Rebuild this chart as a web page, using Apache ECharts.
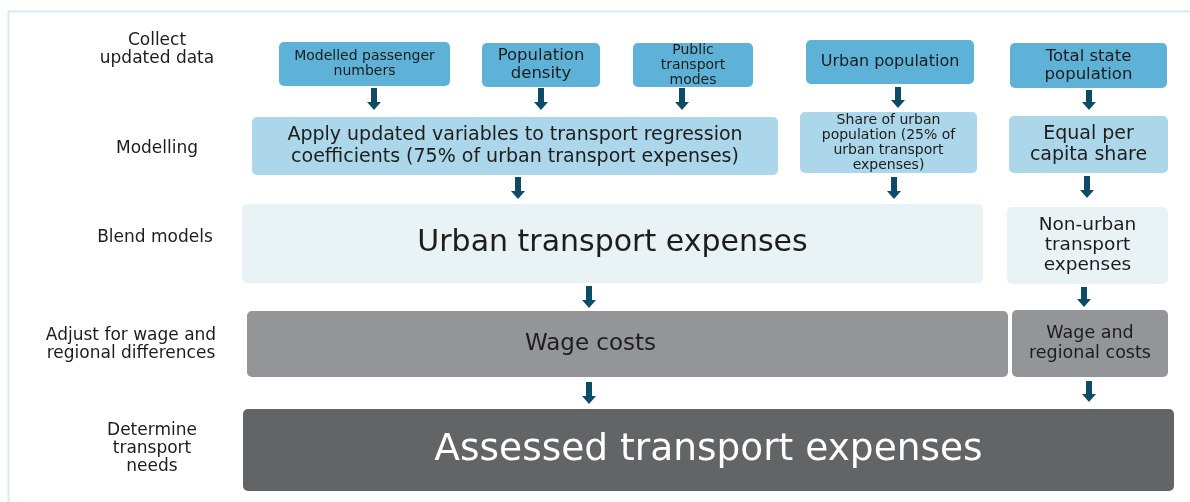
<!DOCTYPE html>
<html>
<head>
<meta charset="utf-8">
<script src="https://cdn.jsdelivr.net/npm/echarts@6/dist/echarts.min.js"></script>
<style>
html, body { margin: 0; padding: 0; background: #fff; }
#chart { width: 1190px; height: 502px; }
</style>
</head>
<body>
<div id="chart"></div>
<script>
// stage labels on the left
const stageNames = ['Collect\nupdated data', 'Modelling', 'Blend models', 'Adjust for wage and\nregional differences', 'Determine\ntransport\nneeds']
const stageX = [157, 157, 155, 131, 152]
const stageY = [50, 149, 238, 345, 449]

// boxes (extents in chart units)
const boxText = [
  'Modelled passenger\nnumbers',
  'Population\ndensity',
  'Public\ntransport\nmodes',
  'Urban population',
  'Total state\npopulation',
  'Apply updated variables to transport regression\ncoefficients (75% of urban transport expenses)',
  'Share of urban\npopulation (25% of\nurban transport\nexpenses)',
  'Equal per\ncapita share',
  'Urban transport expenses',
  'Non-urban\ntransport\nexpenses',
  'Wage costs',
  'Wage and\nregional costs',
  'Assessed transport expenses'
]
const boxStage = [0, 0, 0, 0, 0, 1, 1, 1, 2, 2, 3, 3, 4]
const boxX0 = [279, 482, 633, 806, 1010, 252, 800, 1009, 242, 1007, 247, 1012, 243]
const boxX1 = [450, 600, 753, 974, 1167, 778, 977, 1168, 983, 1168, 1008, 1168, 1174]
const boxY0 = [42, 43, 43, 40, 43, 117, 112, 116, 204, 207, 311, 310, 409]
const boxY1 = [86, 87, 87, 84, 88, 175, 173, 173, 283, 284, 377, 377, 491]

// arrows between stages
const arrowX = [374, 541, 682, 898, 1089, 518, 894, 1087, 589, 1084, 589, 1089]
const arrowY0 = [88, 88, 88, 87, 90, 177, 177, 176, 286, 287, 382, 381]
const arrowY1 = [110, 110, 110, 108, 110, 199, 199, 198, 308, 307, 404, 402]

// styles
const stageFill = ['#5fb2d7', '#acd6ea', '#e9f2f5', '#939598', '#636466']
const boxFont = [14, 16.5, 14, 16, 16.5, 19, 14, 19, 30, 18.5, 23, 17.5, 37.5]
const boxLine = [15, 18, 15, 18, 18, 22, 15, 21, 34, 20, 28, 20, 42]
const boxShift = [0, 0, 0, 0, 0, 0, 0, 0, 0, 0, -37, 0, 0]
const FONT = '"DejaVu Sans", sans-serif'
const TEXT = '#1d1d1b'

const chart = echarts.init(document.getElementById('chart'))

const boxData = boxText.map((t, i) => [boxX0[i], boxY0[i], boxX1[i], boxY1[i], i])
const arrowData = arrowX.map((x, i) => [x, arrowY0[i], arrowY1[i]])
const stageData = stageNames.map((t, i) => [stageX[i], stageY[i], i])

const option = {
  animation: false,
  grid: { left: 0, right: 0, top: 0, bottom: 0 },
  xAxis: { type: 'value', min: 0, max: 1190, show: false },
  yAxis: { type: 'value', min: 0, max: 502, inverse: true, show: false },
  graphic: [
    { type: 'line', shape: { x1: 8, y1: 11.5, x2: 1190, y2: 11.5 }, style: { stroke: '#d7e9f5', lineWidth: 2 } },
    { type: 'line', shape: { x1: 8.5, y1: 11, x2: 8.5, y2: 502 }, style: { stroke: '#d7e9f5', lineWidth: 2 } }
  ],
  series: [
    {
      type: 'custom',
      data: boxData,
      renderItem: (params, api) => {
        const i = api.value(4)
        const p0 = api.coord([api.value(0), api.value(1)])
        const p1 = api.coord([api.value(2), api.value(3)])
        const s = boxStage[i]
        return {
          type: 'group',
          children: [
            {
              type: 'rect',
              shape: { x: p0[0], y: p0[1], width: p1[0] - p0[0], height: p1[1] - p0[1], r: 5 },
              style: { fill: stageFill[s] }
            },
            {
              type: 'text',
              style: {
                text: boxText[i],
                x: (p0[0] + p1[0]) / 2 + boxShift[i],
                y: (p0[1] + p1[1]) / 2,
                align: 'center',
                verticalAlign: 'middle',
                fontFamily: FONT,
                fontSize: boxFont[i],
                lineHeight: boxLine[i],
                fill: s === 4 ? '#ffffff' : TEXT
              }
            }
          ]
        }
      }
    },
    {
      type: 'custom',
      data: arrowData,
      renderItem: (params, api) => {
        const top = api.coord([api.value(0), api.value(1)])
        const bot = api.coord([api.value(0), api.value(2)])
        const x = top[0]
        const head = bot[1] - 8
        return {
          type: 'polygon',
          shape: {
            points: [
              [x - 3, top[1]], [x + 3, top[1]], [x + 3, head],
              [x + 7, head], [x, bot[1]], [x - 7, head], [x - 3, head]
            ]
          },
          style: { fill: '#0e4b67' }
        }
      }
    },
    {
      type: 'custom',
      data: stageData,
      renderItem: (params, api) => {
        const p = api.coord([api.value(0), api.value(1)])
        return {
          type: 'text',
          style: {
            text: stageNames[api.value(2)],
            x: p[0],
            y: p[1],
            align: 'center',
            verticalAlign: 'middle',
            fontFamily: FONT,
            fontSize: 17,
            lineHeight: 18,
            fill: TEXT
          }
        }
      }
    }
  ]
}

chart.setOption(option)
</script>
</body>
</html>
